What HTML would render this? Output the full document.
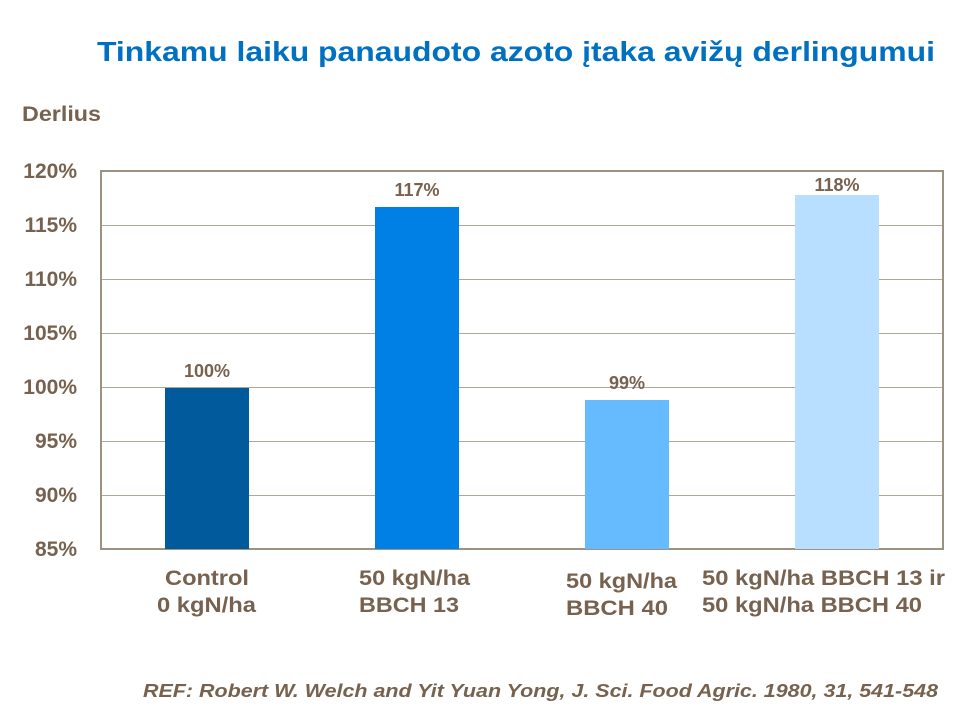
<!DOCTYPE html>
<html><head><meta charset="utf-8"><style>
body{margin:0;width:960px;height:720px;background:#fff;overflow:hidden;font-family:"Liberation Sans",sans-serif}
</style></head><body>
<svg width="960" height="720" xmlns="http://www.w3.org/2000/svg" font-family="Liberation Sans, sans-serif">
<text x="97" y="61" font-size="28" font-weight="bold" fill="#0070c0" textLength="838" lengthAdjust="spacingAndGlyphs">Tinkamu laiku panaudoto azoto įtaka avižų derlingumui</text>
<text x="22" y="121" font-size="21" font-weight="bold" fill="#76624e" textLength="79" lengthAdjust="spacingAndGlyphs">Derlius</text>
<g stroke="#b0a699" stroke-width="1">
<line x1="101" y1="225.5" x2="943" y2="225.5"/>
<line x1="101" y1="279.5" x2="943" y2="279.5"/>
<line x1="101" y1="333.5" x2="943" y2="333.5"/>
<line x1="101" y1="387.5" x2="943" y2="387.5"/>
<line x1="101" y1="441.5" x2="943" y2="441.5"/>
<line x1="101" y1="495.5" x2="943" y2="495.5"/>
</g>
<rect x="101" y="171" width="842" height="378" fill="none" stroke="#9c9183" stroke-width="2"/>
<g font-size="21" font-weight="bold" fill="#76624e" text-anchor="end">
<text x="77" y="178">120%</text><text x="77" y="232">115%</text><text x="77" y="286">110%</text>
<text x="77" y="340">105%</text><text x="77" y="394">100%</text><text x="77" y="448">95%</text>
<text x="77" y="502">90%</text><text x="77" y="556">85%</text>
</g>
<rect x="165" y="388" width="84" height="161" fill="#005a9c"/>
<rect x="375" y="207" width="84" height="342" fill="#0080e4"/>
<rect x="585" y="400" width="84" height="149" fill="#66bbff"/>
<rect x="795" y="195" width="84" height="354" fill="#b8dfff"/>
<g font-size="18" font-weight="bold" fill="#76624e" text-anchor="middle">
<text x="207" y="377">100%</text><text x="417" y="196">117%</text>
<text x="627" y="389">99%</text><text x="837" y="191">118%</text>
</g>
<g font-size="21" font-weight="bold" fill="#76624e" lengthAdjust="spacingAndGlyphs">
<text x="165" y="585" textLength="84" lengthAdjust="spacingAndGlyphs">Control</text><text x="157" y="612" textLength="99" lengthAdjust="spacingAndGlyphs">0 kgN/ha</text>
<text x="359" y="585" textLength="111" lengthAdjust="spacingAndGlyphs">50 kgN/ha</text><text x="359" y="612" textLength="100" lengthAdjust="spacingAndGlyphs">BBCH 13</text>
<text x="566" y="588" textLength="111" lengthAdjust="spacingAndGlyphs">50 kgN/ha</text><text x="566" y="615" textLength="102" lengthAdjust="spacingAndGlyphs">BBCH 40</text>
<text x="702" y="585" textLength="243" lengthAdjust="spacingAndGlyphs">50 kgN/ha BBCH 13 ir</text><text x="702" y="612" textLength="220" lengthAdjust="spacingAndGlyphs">50 kgN/ha BBCH 40</text>
</g>
<text x="143" y="697" font-size="18" font-weight="bold" font-style="italic" fill="#76624e" textLength="795" lengthAdjust="spacingAndGlyphs">REF: Robert W. Welch and Yit Yuan Yong, J. Sci. Food Agric. 1980, 31, 541-548</text>
</svg>
</body></html>
